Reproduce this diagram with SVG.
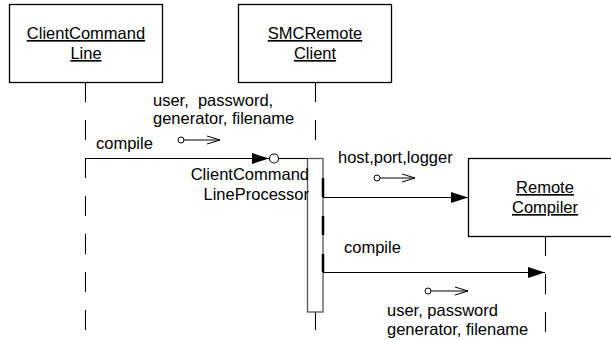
<svg xmlns="http://www.w3.org/2000/svg" width="611" height="340" viewBox="0 0 611 340">
<style>
text{font-family:"Liberation Sans",Arial,sans-serif;font-size:16.5px;fill:#000}
.box{fill:#fff;stroke:#000;stroke-width:1.3}
.title{text-anchor:middle;text-decoration:underline}
.life{stroke:#000;stroke-width:1.1;stroke-dasharray:20 18;fill:none}
.msg{stroke:#000;stroke-width:1.1;fill:none}
.small{stroke:#000;stroke-width:1;fill:none}
.bar{fill:#fff;stroke:#555;stroke-width:1.3}
</style>
<defs>
<marker id="filled" markerWidth="17" markerHeight="11" refX="17" refY="5.5" orient="auto" markerUnits="userSpaceOnUse">
<path d="M0,0 L17,5.5 L0,11 Z" fill="#000"/>
</marker>
<marker id="open" markerWidth="14" markerHeight="10" refX="13" refY="5" orient="auto" markerUnits="userSpaceOnUse">
<path d="M0,1 L13,5 L0,9" fill="none" stroke="#000" stroke-width="1"/>
</marker>
</defs>
<g id="lifelines">
<line class="life" x1="85.5" y1="82" x2="85.5" y2="340"/>
<line class="life" x1="315.5" y1="82" x2="315.5" y2="158"/>
<line class="msg" x1="315.5" y1="312" x2="315.5" y2="330"/>
<line class="life" x1="545.5" y1="236" x2="545.5" y2="340"/>
</g>
<g id="ClientCommandLine">
<rect class="box" x="9.5" y="4.5" width="153" height="78"/>
<text class="title" x="86" y="39">ClientCommand</text>
<text class="title" x="86" y="59">Line</text>
</g>
<g id="SMCRemoteClient">
<rect class="box" x="238.5" y="4.5" width="153" height="78"/>
<text class="title" x="315" y="39">SMCRemote</text>
<text class="title" x="315" y="59">Client</text>
</g>
<g id="ClientCommandLineProcessor">
<rect class="bar" x="307.5" y="158.5" width="15.5" height="153.5"/>
<path d="M323,178 V197 M323,216 V235 M323,254 V272" stroke="#000" stroke-width="2.5" fill="none"/>
<text x="309" y="180" text-anchor="end">ClientCommand</text>
<text x="309" y="200" text-anchor="end">LineProcessor</text>
</g>
<g id="RemoteCompiler">
<rect class="box" x="468.5" y="158.5" width="160" height="78"/>
<text class="title" x="545" y="193">Remote</text>
<text class="title" x="545" y="213">Compiler</text>
</g>
<g id="connectors">
<line class="msg" x1="85.5" y1="158.5" x2="269" y2="158.5" marker-end="url(#filled)"/>
<circle cx="274" cy="158.5" r="4.5" fill="#fff" stroke="#000" stroke-width="1.1"/>
<line class="msg" x1="278.5" y1="158.5" x2="307.5" y2="158.5"/>
<line class="msg" x1="323" y1="197.5" x2="468" y2="197.5" marker-end="url(#filled)"/>
<line class="msg" x1="323" y1="272.5" x2="545" y2="272.5" marker-end="url(#filled)"/>
<circle cx="181" cy="140" r="3" fill="#fff" stroke="#000"/>
<line class="small" x1="184" y1="140" x2="220" y2="140" marker-end="url(#open)"/>
<circle cx="377" cy="178" r="3" fill="#fff" stroke="#000"/>
<line class="small" x1="380" y1="178" x2="415" y2="178" marker-end="url(#open)"/>
<circle cx="428" cy="291" r="3" fill="#fff" stroke="#000"/>
<line class="small" x1="431" y1="291" x2="468" y2="291" marker-end="url(#open)"/>
<text x="153" y="106" xml:space="preserve">user,  password,</text>
<text x="153" y="124">generator, filename</text>
<text x="96" y="149">compile</text>
<text x="338" y="163">host,port,logger</text>
<text x="344" y="253">compile</text>
<text x="387" y="316">user, password</text>
<text x="387" y="335">generator, filename</text>
</g>
</svg>
